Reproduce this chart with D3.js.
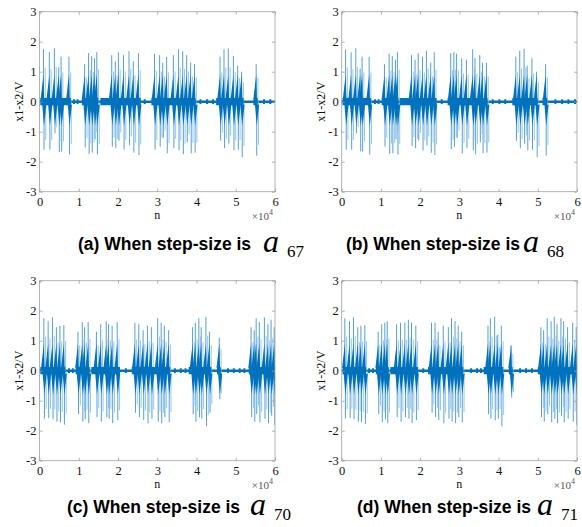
<!DOCTYPE html>
<html>
<head>
<meta charset="utf-8">
<script src="https://cdn.jsdelivr.net/npm/d3@7"></script>
<style>
  body {margin:0; background:#fff}
</style>
</head>
<body>
<svg id="fig" width="582" height="527"></svg>
<script>
var xTicks = [0, 1, 2, 3, 4, 5, 6]
var yTicks = [-3, -2, -1, 0, 1, 2, 3]

// spikes: [n (x10^4), peak up, peak down]
var spikesA = [
  [0.10,1.76,-1.60],[0.25,1.66,-1.60],[0.38,1.78,-1.05],[0.49,1.15,-1.68],[0.55,1.50,-1.66],[0.75,1.50,-1.76],
  [1.15,1.25,-1.52],[1.25,1.62,-1.74],[1.33,1.52,-1.70],[1.40,1.45,-1.25],[1.46,1.65,-1.76],
  [1.84,1.55,-1.50],[1.93,1.35,-1.55],[2.01,1.65,-1.30],[2.14,1.55,-1.60],[2.28,1.68,-1.45],[2.39,1.35,-1.70],[2.52,1.62,-1.78],
  [2.93,1.60,-1.60],[3.06,1.55,-1.50],[3.14,1.30,-1.20],[3.24,1.50,-1.72],[3.41,1.55,-1.55],[3.54,1.75,-1.62],[3.65,1.68,-1.75],[3.75,1.55,-1.35],[3.85,1.30,-1.72],[3.95,1.25,-1.70],
  [4.60,1.50,-1.30],[4.70,1.75,-1.55],[4.81,1.78,-1.40],[4.94,1.52,-1.62],[5.05,1.20,-1.60],[5.15,1.00,-1.85],
  [5.52,1.25,-1.80]
]
var spikesB = [
  [0.10,1.75,-1.60],[0.24,1.65,-1.60],[0.36,1.78,-1.05],[0.47,1.10,-1.65],[0.52,1.50,-1.66],[0.70,1.50,-1.76],
  [1.09,1.25,-1.50],[1.21,1.60,-1.74],[1.29,1.52,-1.72],[1.37,1.40,-1.25],[1.42,1.65,-1.76],
  [1.78,1.55,-1.48],[1.87,1.40,-1.55],[1.95,1.62,-1.30],[2.06,1.50,-1.62],[2.16,1.70,-1.45],[2.27,1.30,-1.70],[2.36,1.65,-1.78],
  [2.78,1.62,-1.58],[2.86,1.65,-1.50],[2.93,1.60,-1.20],[3.06,1.45,-1.72],[3.18,1.40,-1.55],[3.34,1.75,-1.62],[3.40,1.45,-1.75],[3.52,1.55,-1.35],[3.59,1.30,-1.72],[3.69,1.30,-1.70],
  [4.44,1.50,-1.30],[4.54,1.70,-1.55],[4.65,1.76,-1.40],[4.73,1.20,-1.62],[4.85,1.45,-1.60],[4.97,1.00,-1.85],
  [5.20,1.25,-1.80]
]
var spikesC = [
  [0.11,1.75,-1.60],[0.22,1.65,-1.58],[0.33,1.78,-1.62],[0.43,1.45,-1.70],[0.52,1.50,-1.72],[0.62,1.52,-1.80],
  [0.98,1.30,-1.45],[1.09,1.62,-1.70],[1.15,1.45,-1.62],[1.24,1.62,-1.75],
  [1.45,1.30,-1.55],[1.56,1.55,-1.70],[1.70,1.65,-1.55],[1.76,1.55,-1.60],[1.85,1.50,-1.75],[1.98,1.62,-1.65],
  [2.43,1.60,-1.40],[2.53,1.55,-1.55],[2.64,1.35,-1.65],[2.75,1.50,-1.75],[2.85,1.45,-1.60],[3.01,1.75,-1.70],[3.10,1.60,-1.75],[3.18,1.50,-1.55],[3.29,1.35,-1.72],
  [3.90,1.45,-1.45],[3.97,1.60,-1.70],[4.06,1.75,-1.55],[4.12,1.45,-1.60],[4.24,1.80,-1.85],[4.33,1.30,-1.40],
  [4.58,1.10,-0.95],
  [5.39,1.45,-1.55],[5.47,1.35,-1.70],[5.52,1.75,-1.45],[5.60,1.62,-1.72],[5.73,1.78,-1.60],[5.82,1.55,-1.75],[5.90,1.70,-1.50],[5.98,1.45,-1.80]
]
var spikesD = [
  [0.08,1.75,-1.60],[0.20,1.65,-1.58],[0.30,1.78,-1.62],[0.41,1.45,-1.70],[0.49,1.50,-1.72],[0.59,1.52,-1.78],
  [0.93,1.30,-1.45],[1.02,1.55,-1.72],[1.10,1.60,-1.62],[1.16,1.65,-1.75],
  [1.40,1.55,-1.55],[1.50,1.60,-1.70],[1.61,1.60,-1.55],[1.70,1.70,-1.60],[1.78,1.60,-1.75],[1.89,1.50,-1.65],
  [2.29,1.60,-1.40],[2.38,1.60,-1.55],[2.46,1.30,-1.65],[2.59,1.50,-1.75],[2.72,1.45,-1.60],[2.80,1.75,-1.70],[2.89,1.65,-1.75],[2.97,1.50,-1.55],[3.06,1.30,-1.72],
  [3.73,1.50,-1.45],[3.79,1.75,-1.60],[3.90,1.80,-1.65],[3.98,1.20,-1.60],[4.07,1.50,-1.85],
  [4.32,0.85,-0.90],
  [5.08,1.45,-1.55],[5.15,1.35,-1.70],[5.24,1.75,-1.45],[5.34,1.65,-1.72],[5.42,1.80,-1.60],[5.49,1.55,-1.75],[5.59,1.75,-1.50],[5.66,1.65,-1.72],[5.76,1.45,-1.60],[5.89,1.60,-1.70],[5.98,1.45,-1.82]
]

// dense parts of the trace: [from, to] (x10^4)
var groupsA = [[0.02,0.80],[1.08,1.50],[1.55,2.58],[2.85,3.98],[4.50,5.20],[5.45,5.56]]
var groupsB = [[0.02,0.75],[1.02,1.45],[1.48,2.42],[2.70,3.72],[4.35,5.00],[5.12,5.24]]
var groupsC = [[0.02,0.66],[0.92,1.28],[1.32,2.05],[2.35,3.33],[3.80,4.38],[4.52,4.62],[5.33,6.00]]
var groupsD = [[0.02,0.62],[0.87,1.20],[1.24,1.95],[2.20,3.10],[3.62,4.12],[4.26,4.36],[5.00,6.00]]

// small blips in the quiet stretches (x10^4)
var bumpsA = [0.88, 0.97, 2.68, 4.10, 4.27, 4.42, 5.72, 5.88]
var bumpsB = [0.85, 0.94, 2.55, 3.85, 4.02, 4.17, 5.45, 5.62, 5.78, 5.95]
var bumpsC = [0.75, 0.85, 2.20, 3.45, 3.60, 3.72, 4.80, 4.95, 5.10, 5.22]
var bumpsD = [0.70, 0.80, 2.08, 3.30, 3.45, 3.55, 4.55, 4.70, 4.85]

var serif = "Liberation Serif, Times New Roman, serif"
var sans = "Liberation Sans, Arial, sans-serif"
var svg = d3.select("#fig")

var panels = [
  {tag:"(a)", sub:"67", spikes:spikesA, groups:groupsA, bumps:bumpsA, x0:39.5, x1:275, y0:11.7, y1:191.7, capX:78, aX:263, capY:250},
  {tag:"(b)", sub:"68", spikes:spikesB, groups:groupsB, bumps:bumpsB, x0:341.7, x1:577, y0:11.7, y1:191.7, capX:346, aX:523, capY:250},
  {tag:"(c)", sub:"70", spikes:spikesC, groups:groupsC, bumps:bumpsC, x0:39.5, x1:275, y0:280.7, y1:460.7, capX:67, aX:250, capY:513},
  {tag:"(d)", sub:"71", spikes:spikesD, groups:groupsD, bumps:bumpsD, x0:341.7, x1:577, y0:280.7, y1:460.7, capX:357, aX:537, capY:513}
]

panels.forEach((p, i) => drawPanel(p, i))

function drawPanel(p, i) {
  var x = d3.scaleLinear().domain([0, 6]).range([p.x0, p.x1])
  var y = d3.scaleLinear().domain([-3, 3]).range([p.y1, p.y0])
  var g = svg.append("g")

  g.append("clipPath").attr("id", "clip" + i)
    .append("rect").attr("x", p.x0).attr("y", p.y0).attr("width", p.x1 - p.x0).attr("height", p.y1 - p.y0)
  var plot = g.append("g").attr("clip-path", "url(#clip" + i + ")")

  var dark = "#0072BD"
  var band = (h) => d3.area().x(d => x(d)).y0(y(-h)).y1(y(h))

  // quiet baseline
  plot.append("path").attr("d", band(0.04)([0, 6])).attr("fill", dark)
  // blips
  plot.selectAll(".bump").data(p.bumps).join("path")
    .attr("d", d => band(0.08)([d - 0.025, d + 0.025])).attr("fill", dark)

  // tall spikes (thin, look lighter)
  plot.selectAll(".up").data(p.spikes).join("line")
    .attr("x1", d => x(d[0])).attr("x2", d => x(d[0]))
    .attr("y1", y(0)).attr("y2", d => y(d[1]))
    .attr("stroke", "#3f95d4").attr("stroke-width", 0.9)
  plot.selectAll(".dn").data(p.spikes).join("line")
    .attr("x1", d => x(d[0] + 0.015)).attr("x2", d => x(d[0] + 0.015))
    .attr("y1", y(0)).attr("y2", d => y(d[2]))
    .attr("stroke", "#3f95d4").attr("stroke-width", 0.9)
  // faint side lines
  plot.selectAll(".up2").data(p.spikes).join("line")
    .attr("x1", d => x(d[0] + 0.045)).attr("x2", d => x(d[0] + 0.045))
    .attr("y1", y(0)).attr("y2", d => y(d[1] * 0.65))
    .attr("stroke", "#7ab8e6").attr("stroke-width", 0.8)
  plot.selectAll(".dn2").data(p.spikes).join("line")
    .attr("x1", d => x(d[0] + 0.06)).attr("x2", d => x(d[0] + 0.06))
    .attr("y1", y(0)).attr("y2", d => y(d[2] * 0.8))
    .attr("stroke", "#7ab8e6").attr("stroke-width", 0.8)

  // dense core of each active stretch
  plot.selectAll(".grp").data(p.groups).join("path")
    .attr("d", d => band(0.12)(d)).attr("fill", dark)

  // dark shark-fin shapes at each spike
  var fin = d3.line().x(d => x(d[0])).y(d => y(d[1]))
  plot.selectAll(".finU").data(p.spikes).join("path")
    .attr("d", d => fin([[d[0] - 0.07, 0.1], [d[0], Math.min(0.9, d[1])], [d[0] + 0.02, 0.1]]) + "Z")
    .attr("fill", dark)
  plot.selectAll(".finD").data(p.spikes).join("path")
    .attr("d", d => fin([[d[0] - 0.03, -0.1], [d[0] + 0.015, -0.8], [d[0] + 0.075, -0.1]]) + "Z")
    .attr("fill", dark)

  // box + ticks
  var tickCol = "#a0a0a0"
  g.append("rect").attr("x", p.x0).attr("y", p.y0).attr("width", p.x1 - p.x0).attr("height", p.y1 - p.y0)
    .attr("fill", "none").attr("stroke", tickCol).attr("stroke-width", 0.8)

  var fmt = d => String(d)
  var bottom = g.append("g").attr("transform", "translate(0," + p.y1 + ")")
    .call(d3.axisBottom(x).tickValues(xTicks).tickFormat(fmt).tickSizeInner(-3).tickSizeOuter(0).tickPadding(5))
  var top = g.append("g").attr("transform", "translate(0," + p.y0 + ")")
    .call(d3.axisTop(x).tickValues(xTicks).tickSizeInner(-3).tickSizeOuter(0).tickFormat(""))
  var left = g.append("g").attr("transform", "translate(" + p.x0 + ",0)")
    .call(d3.axisLeft(y).tickValues(yTicks).tickFormat(fmt).tickSizeInner(-3).tickSizeOuter(0).tickPadding(3))
  var right = g.append("g").attr("transform", "translate(" + p.x1 + ",0)")
    .call(d3.axisRight(y).tickValues(yTicks).tickSizeInner(-3).tickSizeOuter(0).tickFormat(""))
  ;[bottom, top, left, right].forEach(a => {
    a.attr("font-family", serif).attr("font-size", 12.5)
    a.select(".domain").remove()
    a.selectAll("line").attr("stroke", tickCol).attr("stroke-width", 0.8)
    a.selectAll("text").attr("fill", "#111")
  })

  // axis labels
  var midX = (p.x0 + p.x1) / 2, midY = (p.y0 + p.y1) / 2
  g.append("text").attr("x", midX).attr("y", p.y1 + 27).attr("text-anchor", "middle")
    .attr("font-family", serif).attr("font-size", 12).attr("fill", "#111").text("n")
  g.append("text").attr("transform", "translate(" + (p.x0 - 17) + "," + midY + ") rotate(-90)")
    .attr("text-anchor", "middle").attr("font-family", serif).attr("font-size", 12).attr("fill", "#111").text("x1-x2/V")
  var mult = g.append("text").attr("x", p.x1 - 2).attr("y", p.y1 + 28).attr("text-anchor", "end")
    .attr("font-family", serif).attr("font-size", 11).attr("fill", "#555")
  mult.append("tspan").text("\u00d710")
  mult.append("tspan").attr("dy", -5).attr("font-size", 8).text("4")

  // caption
  g.append("text").attr("x", p.capX).attr("y", p.capY)
    .attr("font-family", sans).attr("font-weight", "bold")
    .attr("font-size", 17.5).attr("fill", "#000").text(p.tag + " When step-size is")
  g.append("text").attr("x", p.aX).attr("y", p.capY + 2).attr("font-style", "italic")
    .attr("font-family", serif).attr("font-size", 32).attr("fill", "#000").text("a")
  g.append("text").attr("x", p.aX + 24).attr("y", p.capY + 7)
    .attr("font-family", serif).attr("font-size", 17).attr("fill", "#000").text(p.sub)
}
</script>
</body>
</html>
